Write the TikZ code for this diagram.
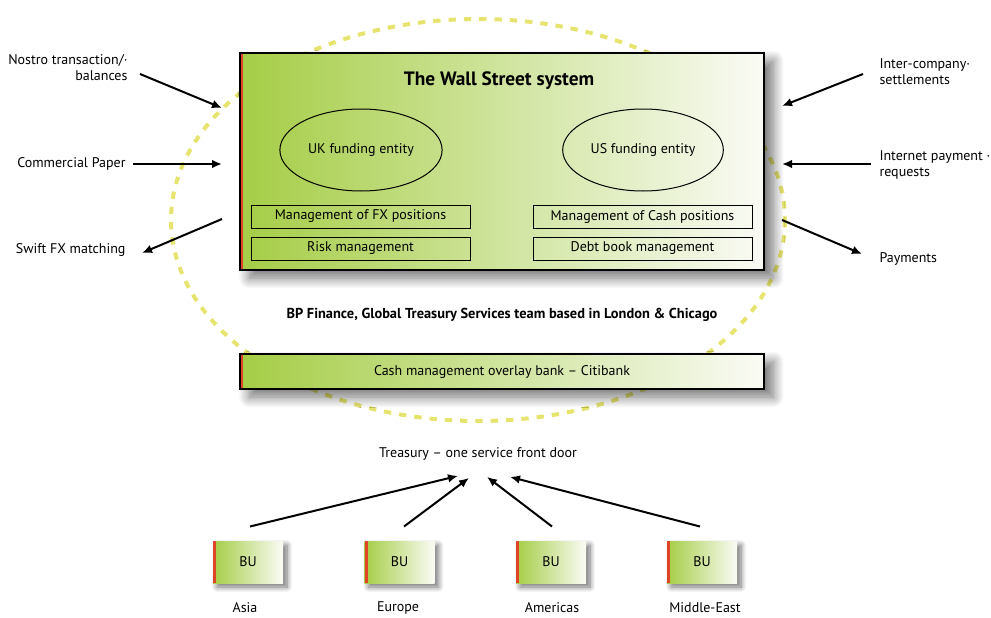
\documentclass[tikz,border=0pt]{standalone}
\usepackage{fontspec}
\setmainfont{PT Sans}
\usetikzlibrary{arrows.meta,calc,shapes.geometric,shadows.blur}

\definecolor{bpgreen}{RGB}{165,205,70}
\definecolor{bpmid}{RGB}{216,231,165}
\definecolor{bpwhite}{RGB}{250,251,245}
\definecolor{bpred}{RGB}{222,68,38}
\definecolor{ringyellow}{RGB}{230,228,110}

\tikzset{every picture/.style={line width=0.75pt}}
\tikzset{
  lbl/.style={font=\fontsize{10.5}{12}\selectfont, inner sep=0pt},
  arr/.style={line width=1.5pt, -{Latex[length=7.5pt,width=6.5pt]}},
  redstrip/.style={path picture={\fill[bpred] (path picture bounding box.south west) rectangle ([xshift=2.6pt]path picture bounding box.north west);}},
  greenbox/.style={draw=black, line width=1.5pt, left color=bpgreen, middle color=bpmid, right color=bpwhite, redstrip,
    blur shadow={shadow xshift=7pt, shadow yshift=-6pt, shadow blur radius=8pt, shadow blur steps=14, shadow opacity=55},
    font=\fontsize{10.5}{12}\selectfont},
  bubox/.style={left color=bpgreen, middle color=bpmid, right color=bpwhite, redstrip,
    blur shadow={shadow xshift=3pt, shadow yshift=-3pt, shadow blur radius=4pt, shadow blur steps=10, shadow opacity=55},
    minimum width=52.5pt, minimum height=31.5pt, font=\fontsize{10.5}{12}\selectfont},
  subbox/.style={draw, line width=0.75pt, minimum width=164.25pt, minimum height=17.25pt, inner sep=0pt, font=\fontsize{10.5}{12}\selectfont},
  entity/.style={ellipse, draw, line width=0.75pt, minimum width=118.5pt, minimum height=61.5pt, font=\fontsize{10.5}{12}\selectfont},
  ring/.style={draw=ringyellow, line width=3pt, dash pattern=on 5.5pt off 6pt}
}

\begin{document}
\begin{tikzpicture}[x=0.75pt,y=0.75pt,yscale=-1,xscale=1]
\useasboundingbox (0,0) rectangle (991,617);

%Shape: Ellipse (dashed ring behind the boxes)
\draw[ring] (478,220) ellipse [x radius=307, y radius=201];

%Shape: Rectangle
\node[greenbox, minimum width=393pt, minimum height=162.75pt] (wallst) at (502,161.5) {};

% Text Node
\node[font=\fontsize{14.5}{16}\selectfont\bfseries] (title) at (499,81) {The Wall Street system};

%Shape: Ellipse
\node[entity] (uk) at (361,150) {UK funding entity};
%Shape: Ellipse
\node[entity] (us) at (643,150) {US funding entity};

%Shape: Rectangle
\node[subbox] (fx) at (360.5,216.5) {Management of FX positions};
\node[subbox] (risk) at (360.5,248.5) {Risk management};
\node[subbox] (cash) at (642.5,216.5) {Management of Cash positions};
\node[subbox] (debt) at (642.5,248.5) {Debt book management};

% Text Node
\node[font=\fontsize{10.8}{12}\selectfont\bfseries] (team) at (502,315) {BP Finance, Global Treasury Services team based in London \& Chicago};

%Shape: Rectangle
\node[greenbox, minimum width=393pt, minimum height=26.25pt] (citi) at (502,371.5) {Cash management overlay bank – Citibank};

% Text Node
\node[lbl] (front) at (478,454) {Treasury – one service front door};

%Shape: Rectangle
\foreach \n/\x/\lx/\lab in {asia/248/245/Asia, europe/399.5/398/Europe, americas/551/552/Americas, mideast/702/705/Middle-East}{
  \node[bubox] (\n) at (\x,562) {BU};
  \node[lbl] (\n-lab) at (\lx,608) {\lab};
}

%Straight Lines
\draw[arr] ($(asia.north)+(2,-14)$) -- ($(front.south)+(-20,15)$);
\draw[arr] ($(europe.north)+(4.5,-14)$) -- ($(front.south)+(-9,17)$);
\draw[arr] ($(americas.north)+(1,-14)$) -- ($(front.south)+(9,16)$);
\draw[arr] ($(mideast.north)+(-2,-14)$) -- ($(front.south)+(32,16)$);

% Text Node
\node[lbl, anchor=east, align=right] (nostro) at (128,68) {Nostro transaction/·\\balances};
\node[lbl, anchor=east] (cpaper) at (126,164) {Commercial Paper};
\node[lbl, anchor=east] (swift) at (126,250) {Swift FX matching};
\node[lbl, anchor=west, align=left] (interco) at (879,71.5) {Inter-company·\\settlements};
\node[lbl, anchor=west, align=left] (inetpay) at (879,165) {Internet payment ·\\requests};
\node[lbl, anchor=west] (payments) at (879,259) {Payments};

\coordinate (nostro-in) at (222,108);
\coordinate (cpaper-in) at (222,164);
\coordinate (swift-out) at (222,219);
\coordinate (interco-in) at (782,106);
\coordinate (inetpay-in) at (782,164);
\coordinate (payments-out) at (782,220);

%Straight Lines
\draw[arr] ($(nostro.east)+(12,6)$) -- (nostro-in);
\draw[arr] ($(cpaper.east)+(7,0)$) -- (cpaper-in);
\draw[arr] (swift-out) -- ($(swift.east)+(16,3)$);
\draw[arr] ($(interco.west)+(-16,2.5)$) -- (interco-in);
\draw[arr] ($(inetpay.west)+(-8,-1)$) -- (inetpay-in);
\draw[arr] (payments-out) -- ($(payments.west)+(-17,-5)$);

\end{tikzpicture}
\end{document}
